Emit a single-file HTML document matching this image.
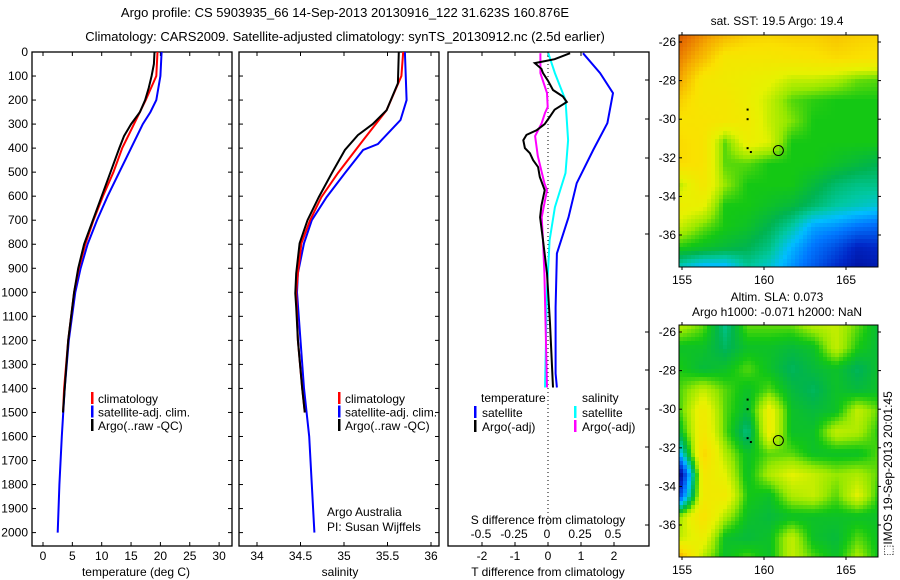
<!DOCTYPE html>
<html><head><meta charset="utf-8">
<style>
html,body{margin:0;padding:0;background:#fff;}
svg{display:block;font-family:"Liberation Sans",sans-serif;}
text{font-size:12px;fill:#000;}
</style></head>
<body>
<svg id="fig" width="900" height="580" viewBox="0 0 900 580">
<text x="345" y="17" text-anchor="middle" style="font-size:13px">Argo profile: CS 5903935_66 14-Sep-2013 20130916_122 31.623S 160.876E</text>
<text x="345" y="41" text-anchor="middle" style="font-size:13px">Climatology: CARS2009. Satellite-adjusted climatology: synTS_20130912.nc (2.5d earlier)</text>
<g id="g1"></g>
<g id="g2"></g>
<g id="g3"></g>
<g id="m1"></g>
<g id="m2"></g>
<text transform="translate(892,556) rotate(-90)" style="font-size:12px">⬚IMOS 19-Sep-2013 20:01:45</text>
</svg>
<script>
// ---------- data ----------
const tempDepthRed = [0,100,200,300,400,500,600,700,800,900,1000,1200,1400,1500];
const tempRed      = [19.5,19.3,17.5,15.5,13.5,12,10.2,8.6,7.2,6.1,5.3,4.3,3.6,3.4];
const tempDepthBlue= [0,100,200,250,300,400,500,600,700,800,900,1000,1200,1400,1600,1800,2000];
const tempBlue     = [20.2,20.0,19.3,18.3,17,15,13,11,9.2,7.6,6.4,5.5,4.4,3.7,3.2,2.8,2.5];
const tempDepthArgo= [0,50,100,150,200,250,300,350,400,500,600,700,800,900,1000,1200,1400,1500];
const tempArgo     = [19.0,18.9,18.5,18.0,17.4,16.5,15.0,13.8,13.0,11.5,10,8.5,7,6,5.3,4.3,3.7,3.4];

const salDepthRed  = [0,100,242,367,504,604,700,796,921,1000,1200,1400,1500];
const salRed       = [35.68,35.66,35.49,35.22,34.93,34.74,34.61,34.51,34.47,34.45,34.47,34.52,34.55];
const salDepthBlue = [0,200,283,383,408,504,604,700,796,921,1000,1200,1400,1600,1800,2000];
const salBlue      = [35.70,35.72,35.65,35.39,35.22,35.01,34.80,34.63,34.54,34.47,34.46,34.50,34.54,34.60,34.63,34.66];
const salDepthArgo = [0,130,242,300,346,408,504,604,700,796,921,1004,1062,1200,1400,1500];
const salArgo      = [35.63,35.62,35.49,35.33,35.16,35.01,34.86,34.71,34.58,34.49,34.45,34.44,34.45,34.47,34.52,34.55];

const dTDepthSat  = [5,88,171,296,408,546,688,838,1062,1338,1396];
const dTSat       = [1.06,1.58,1.97,1.8,1.37,0.87,0.62,0.27,0.23,0.23,0.27];
const dTDepthArgo = [5,30,46,70,88,120,158,185,208,240,271,300,325,345,367,400,421,450,479,520,575,640,688,783,921,1129,1396];
const dTArgo      = [0.67,0.2,-0.4,-0.2,-0.15,0.0,0.15,0.45,0.57,0.2,0.05,-0.1,-0.34,-0.65,-0.75,-0.7,-0.55,-0.45,-0.3,-0.25,-0.1,-0.2,-0.24,-0.15,-0.03,0.06,0.15];
const dSDepthSat  = [5,88,200,367,504,646,783,992,1396];
const dSSat       = [0.01,0.06,0.14,0.16,0.14,0.06,0.02,0.0,-0.015];
const dSDepthArgo = [5,88,171,229,254,296,350,433,546,575,688,783,921,1396];
const dSArgo      = [-0.05,-0.05,0,0.005,-0.015,-0.04,-0.09,-0.07,-0.02,0,-0.04,-0.03,-0.02,0];

const depthTicks = [0,100,200,300,400,500,600,700,800,900,1000,1100,1200,1300,1400,1500,1600,1700,1800,1900,2000];
const tempTicks = [0,5,10,15,20,25,30];
const salTicks = [34,34.5,35,35.5,36];
const salTickLabels = ["34","34.5","35","35.5","36"];
const dTTicks = [-2,-1,0,1,2];
const dSTicks = [-0.5,-0.25,0,0.25,0.5];
const dSTickLabels = ["-0.5","-0.25","0","0.25","0.5"];

const mapLatTicks = [-26,-28,-30,-32,-34,-36];
const mapLonTicks = [155,160,165];
const sstGrid = [
[0.95,0.88,0.82,0.78,0.77,0.78,0.78,0.80,0.78,0.77],
[0.90,0.82,0.72,0.72,0.72,0.73,0.74,0.76,0.75,0.74],
[0.85,0.72,0.70,0.68,0.66,0.62,0.62,0.60,0.56,0.55],
[0.78,0.72,0.72,0.68,0.62,0.55,0.53,0.52,0.52,0.52],
[0.74,0.74,0.72,0.70,0.62,0.57,0.52,0.52,0.52,0.52],
[0.76,0.74,0.55,0.68,0.64,0.52,0.52,0.52,0.52,0.52],
[0.76,0.74,0.55,0.55,0.52,0.52,0.52,0.50,0.48,0.46],
[0.62,0.72,0.58,0.52,0.52,0.52,0.48,0.44,0.42,0.42],
[0.68,0.66,0.52,0.52,0.50,0.48,0.44,0.40,0.38,0.36],
[0.62,0.56,0.52,0.50,0.46,0.40,0.30,0.28,0.24,0.22],
[0.52,0.50,0.48,0.46,0.42,0.32,0.24,0.18,0.10,0.12],
[0.36,0.30,0.30,0.40,0.36,0.28,0.20,0.12,0.06,0.08]];
const slaGrid = [
[0.60,0.55,0.42,0.55,0.55,0.55,0.60,0.62,0.55,0.48],
[0.50,0.50,0.45,0.50,0.50,0.48,0.50,0.62,0.52,0.48],
[0.52,0.48,0.50,0.55,0.50,0.45,0.48,0.50,0.45,0.50],
[0.55,0.62,0.55,0.50,0.55,0.48,0.45,0.50,0.48,0.50],
[0.55,0.70,0.55,0.48,0.68,0.50,0.48,0.50,0.62,0.55],
[0.50,0.72,0.55,0.42,0.68,0.50,0.50,0.62,0.60,0.52],
[0.35,0.78,0.60,0.50,0.55,0.55,0.50,0.50,0.50,0.55],
[0.05,0.72,0.65,0.50,0.60,0.65,0.62,0.58,0.60,0.55],
[0.20,0.70,0.70,0.52,0.50,0.60,0.62,0.55,0.65,0.52],
[0.60,0.75,0.60,0.50,0.48,0.50,0.50,0.50,0.50,0.50],
[0.62,0.68,0.50,0.48,0.50,0.62,0.50,0.48,0.55,0.50],
[0.85,0.60,0.50,0.55,0.50,0.62,0.55,0.50,0.60,0.50]];
const trackLon = [159,159,159,159.2];
const trackLat = [-29.5,-30,-31.5,-31.7];
const argoLon = 160.876, argoLat = -31.623;

// ---------- helpers ----------
const NS="http://www.w3.org/2000/svg";
function mk(parent,tag,attrs,txt){const e=document.createElementNS(NS,tag);for(const k in attrs)e.setAttribute(k,attrs[k]);if(txt!==undefined)e.textContent=txt;parent.appendChild(e);return e;}
const yD = d => 52 + d*0.2403;
const PT=52, PB=546;

function frame(g,x0,x1,name){
  const r=mk(g,'rect',{x:x0,y:PT,width:x1-x0,height:PB-PT,fill:'none',stroke:'#000','stroke-width':1.3});
  
  
}
function profile(g,xs,ds,vals,color,w,name){
  const pts=vals.map((v,i)=>xs(v).toFixed(1)+','+yD(ds[i]).toFixed(1)).join(' ');
  const p=mk(g,'polyline',{points:pts,fill:'none',stroke:color,'stroke-width':w,'stroke-linejoin':'miter'});
  
  
}
function depthTickMarks(g,x0,x1,left){
  depthTicks.forEach(d=>{
    const y=yD(d);
    const a=mk(g,'line',{x1:x0,x2:x0+4,y1:y,y2:y,stroke:'#000'});
    
    
    const b=mk(g,'line',{x1:x1-4,x2:x1,y1:y,y2:y,stroke:'#000'});
    
    
    if(left){const t=mk(g,'text',{x:28,y:y+4,'text-anchor':'end'},String(d));
      
      }
  });
}
function xTicks(g,xs,ticks,labels,ylab){
  ticks.forEach((v,i)=>{
    const x=xs(v);
    const a=mk(g,'line',{x1:x,x2:x,y1:PB-4,y2:PB,stroke:'#000'});
    
    
    const b=mk(g,'line',{x1:x,x2:x,y1:PT,y2:PT+4,stroke:'#000'});
    
    
    const t=mk(g,'text',{x:x,y:ylab,'text-anchor':'middle'},labels[i]);
    
    
  });
}
function legend(g,x,items){
  items.forEach((it,i)=>{
    const y=398+i*13.5;
    const b=mk(g,'rect',{x:x,y:y-6,width:2.5,height:12,fill:it[0]});
    
    
    const t=mk(g,'text',{x:x+7,y:y+5},it[1]);
    
    
  });
}

// ---------- panel 1 ----------
const g1=document.getElementById('g1');
const xT=v=>43+v*5.87;
frame(g1,32,232,'temperature-panel');
depthTickMarks(g1,32,232,true);
xTicks(g1,xT,tempTicks,tempTicks.map(String),560);
profile(g1,xT,tempDepthBlue,tempBlue,'#0000ff',2,'satellite-temperature-line');
profile(g1,xT,tempDepthRed,tempRed,'#ff0000',2,'climatology-temperature-line');
profile(g1,xT,tempDepthArgo,tempArgo,'#000',2,'argo-temperature-line');
legend(g1,91,[['#ff0000','climatology'],['#0000ff','satellite-adj. clim.'],['#000','Argo(..raw -QC)']]);
let t=mk(g1,'text',{x:136,y:576,'text-anchor':'middle'},'temperature (deg C)');



// ---------- panel 2 ----------
const g2=document.getElementById('g2');
const xS=v=>257+(v-34)*87;
frame(g2,239,439,'salinity-panel');
depthTickMarks(g2,239,439,false);
xTicks(g2,xS,salTicks,salTickLabels,560);
profile(g2,xS,salDepthBlue,salBlue,'#0000ff',2,'satellite-salinity-line');
profile(g2,xS,salDepthRed,salRed,'#ff0000',2,'climatology-salinity-line');
profile(g2,xS,salDepthArgo,salArgo,'#000',2,'argo-salinity-line');
legend(g2,338,[['#ff0000','climatology'],['#0000ff','satellite-adj. clim.'],['#000','Argo(..raw -QC)']]);
t=mk(g2,'text',{x:340,y:576,'text-anchor':'middle'},'salinity');


t=mk(g2,'text',{x:327,y:516},'Argo Australia');


t=mk(g2,'text',{x:327,y:531},'PI: Susan Wijffels');



// ---------- panel 3 ----------
const g3=document.getElementById('g3');
const xdT=v=>548+v*33;
const xdS=v=>547+v*132;
frame(g3,448,649,'difference-panel');
[80,119,158,196,234,332,370,409,447,485,525].forEach(y=>{
  const a=mk(g3,'line',{x1:645,x2:649,y1:y,y2:y,stroke:'#000'});
  
  
});
xTicks(g3,xdT,dTTicks,dTTicks.map(String),560);
dSTicks.forEach((v,i)=>{
  const tt=mk(g3,'text',{x:xdS(v),y:538,'text-anchor':'middle'},dSTickLabels[i]);
  
  
});
const zl=mk(g3,'line',{x1:548,x2:548,y1:PT,y2:528,stroke:'#000','stroke-dasharray':'1,3'});


profile(g3,xdT,dTDepthSat,dTSat,'#0000ff',2,'temperature-satellite-diff');
profile(g3,xdS,dSDepthSat,dSSat,'#00ffff',2,'salinity-satellite-diff');
profile(g3,xdS,dSDepthArgo,dSArgo,'#ff00ff',2,'salinity-argo-diff');
profile(g3,xdT,dTDepthArgo,dTArgo,'#000',2,'temperature-argo-diff');
t=mk(g3,'text',{x:481,y:402},'temperature');


t=mk(g3,'text',{x:582,y:402},'salinity');


[[474,'#0000ff','satellite',0],[474,'#000','Argo(-adj)',1],[574,'#00ffff','satellite',0],[574,'#ff00ff','Argo(-adj)',1]].forEach(it=>{
  const y=412+it[3]*14;
  const b=mk(g3,'rect',{x:it[0],y:y-6,width:2.5,height:12,fill:it[1]});
  
  
  const tx=mk(g3,'text',{x:it[0]+8,y:y+5},it[2]);
  
  
});
t=mk(g3,'text',{x:548,y:524,'text-anchor':'middle'},'S difference from climatology');


t=mk(g3,'text',{x:548,y:576,'text-anchor':'middle'},'T difference from climatology');



// ---------- maps ----------
const stops=[[0,[0,0,128]],[0.12,[0,40,200]],[0.25,[0,120,255]],[0.33,[0,190,255]],[0.4,[0,200,160]],[0.46,[0,180,80]],[0.52,[20,200,20]],[0.58,[150,232,0]],[0.65,[230,242,0]],[0.75,[250,225,0]],[0.85,[245,170,0]],[0.93,[230,110,0]],[1,[190,60,0]]];
function cmap(v){v=Math.max(0,Math.min(1,v));for(let i=1;i<stops.length;i++){if(v<=stops[i][0]){const a=stops[i-1],b=stops[i],f=(v-a[0])/(b[0]-a[0]);return 'rgb('+a[1].map((c,k)=>Math.round(c+(b[1][k]-c)*f)).join(',')+')';}}return 'rgb(190,60,0)';}
function sample(grid,fx,fy){
  const R=grid.length,C=grid[0].length;
  const gx=Math.max(0,Math.min(C-1,fx*(C-1))),gy=Math.max(0,Math.min(R-1,fy*(R-1)));
  const x0=Math.floor(gx),y0=Math.floor(gy),x1=Math.min(C-1,x0+1),y1=Math.min(R-1,y0+1);
  const ax=gx-x0,ay=gy-y0;
  return grid[y0][x0]*(1-ax)*(1-ay)+grid[y0][x1]*ax*(1-ay)+grid[y1][x0]*(1-ax)*ay+grid[y1][x1]*ax*ay;
}
function drawMap(id,grid,top,lat26y,lat36y,labY,titles){
  const g=document.getElementById(id);
  const L=679,R=878,B=top+232;
  const lx=lon=>682+(lon-155)*16.4;
  const ly=lat=>lat26y+(-26-lat)*(lat36y-lat26y)/10;
  const cs=4;
  for(let y=top;y<B;y+=cs){for(let x=L;x<R;x+=cs){
    const v=sample(grid,(x-L)/(R-L),(y-top)/(B-top));
    const r=mk(g,'rect',{x:x,y:y,width:Math.min(cs,R-x)+0.3,height:Math.min(cs,B-y)+0.3,fill:cmap(v)});
    
    
  }}
  const fr=mk(g,'rect',{x:L,y:top,width:R-L,height:B-top,fill:'none',stroke:'#000','stroke-width':1});
  
  
  mapLatTicks.forEach(lat=>{
    const y=ly(lat);
    const a=mk(g,'line',{x1:L,x2:L+3,y1:y,y2:y,stroke:'#000'});
    
    
    const b=mk(g,'line',{x1:R,x2:R+3,y1:y,y2:y,stroke:'#000'});
    
    
    const tx=mk(g,'text',{x:676,y:y+4,'text-anchor':'end'},String(lat));
    
    
  });
  mapLonTicks.forEach(lon=>{
    const x=lx(lon);
    const a=mk(g,'line',{x1:x,x2:x,y1:B,y2:B+3,stroke:'#000'});
    
    
    const b=mk(g,'line',{x1:x,x2:x,y1:top-3,y2:top,stroke:'#000'});
    
    
    const tx=mk(g,'text',{x:x,y:labY,'text-anchor':'middle'},String(lon));
    
    
  });
  trackLon.forEach((lon,i)=>{
    const d=mk(g,'rect',{x:lx(lon)-1,y:ly(trackLat[i])-1,width:2,height:2,fill:'#000'});
    
    
  });
  const c=mk(g,'circle',{cx:lx(argoLon),cy:ly(argoLat),r:5,fill:'none',stroke:'#000','stroke-width':1});
  
  
  titles.forEach(tt=>{
    const tx=mk(g,'text',{x:777,y:tt[1],'text-anchor':'middle'},tt[0]);
    
    
  });
}
drawMap('m1',sstGrid,35,42,235,284,[['sat. SST: 19.5 Argo: 19.4',25]]);
drawMap('m2',slaGrid,325,332,525,574,[['Altim. SLA: 0.073',301],['Argo h1000: -0.071 h2000: NaN',316]]);
</script>
</body></html>
